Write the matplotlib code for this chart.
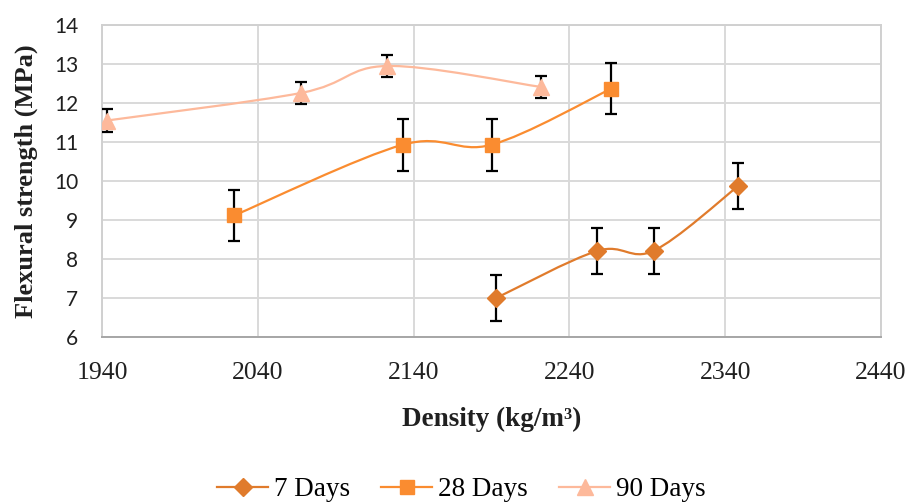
import matplotlib
matplotlib.use("Agg")
import matplotlib.pyplot as plt
from matplotlib.path import Path
from matplotlib.patches import PathPatch
from matplotlib.lines import Line2D

# Flexural strength vs. density for three curing ages
density_7 = [2193, 2258, 2294, 2348]
strength_7 = [7.0, 8.21, 8.21, 9.86]
err_7 = [0.58, 0.59, 0.59, 0.59]

density_28 = [2025, 2133, 2190, 2267]
strength_28 = [9.12, 10.93, 10.93, 12.37]
err_28 = [0.65, 0.67, 0.67, 0.66]

density_90 = [1943, 2068, 2123, 2222]
strength_90 = [11.55, 12.26, 12.95, 12.41]
err_90 = [0.29, 0.28, 0.28, 0.29]

series_labels = ["7 Days", "28 Days", "90 Days"]
x_ticks = [1940, 2040, 2140, 2240, 2340, 2440]
y_ticks = [6, 7, 8, 9, 10, 11, 12, 13, 14]

colors = ["#E07B2C", "#FA8C30", "#FDB99B"]
markers = ["D", "s", "^"]
msizes = [9.5, 10.5, 11.5]

serif = ["Liberation Serif", "DejaVu Serif"]


def smooth_path(xs, ys):
    """Cubic Bezier path through the points (Catmull-Rom tangents)."""
    pts = list(zip(xs, ys))
    n = len(pts)
    verts = [pts[0]]
    codes = [Path.MOVETO]
    for i in range(n - 1):
        p0 = pts[i - 1] if i > 0 else pts[i]
        p1 = pts[i]
        p2 = pts[i + 1]
        p3 = pts[i + 2] if i + 2 < n else pts[i + 1]
        c1 = (p1[0] + (p2[0] - p0[0]) / 6, p1[1] + (p2[1] - p0[1]) / 6)
        c2 = (p2[0] - (p3[0] - p1[0]) / 6, p2[1] - (p3[1] - p1[1]) / 6)
        verts += [c1, c2, p2]
        codes += [Path.CURVE4] * 3
    return Path(verts, codes)


fig = plt.figure(figsize=(9.13, 5.04), dpi=100)
ax = fig.add_axes([0.1117, 0.3313, 0.8533, 0.6191])

data = [
    (density_7, strength_7, err_7),
    (density_28, strength_28, err_28),
    (density_90, strength_90, err_90),
]

handles = []
for (xs, ys, es), c, m, ms, lab in zip(data, colors, markers, msizes, series_labels):
    ax.add_patch(PathPatch(smooth_path(xs, ys), facecolor="none", edgecolor=c,
                           lw=1.6, zorder=3))
    ax.errorbar(xs, ys, yerr=es, fmt="none", ecolor="black", elinewidth=1.6,
                capsize=4, capthick=1.6, zorder=4)
    ax.plot(xs, ys, linestyle="none", marker=m, markersize=ms, color=c,
            markeredgecolor=c, zorder=5)
    handles.append(Line2D([], [], color=c, lw=1.6, marker=m, markersize=ms,
                          markeredgecolor=c, label=lab))

ax.set_xlim(1940, 2440)
ax.set_ylim(6, 14)
ax.set_xticks(x_ticks)
ax.set_yticks(y_ticks)
ax.grid(True, color="#D9D9D9", lw=1.4)
ax.set_axisbelow(True)
ax.tick_params(length=0)
ax.tick_params(axis="y", pad=17)
ax.tick_params(axis="x", pad=18)

for lab in ax.get_yticklabels():
    lab.set_fontfamily(["Lato", "DejaVu Sans"])
    lab.set_fontsize(15)
    lab.set_color("#202020")
for lab in ax.get_xticklabels():
    lab.set_fontfamily(serif)
    lab.set_fontsize(18.5)
    lab.set_color("#202020")

for name, sp in ax.spines.items():
    sp.set_color("#D0D0D0")
    sp.set_linewidth(1.4)
ax.spines["bottom"].set_color("#A6A6A6")

ax.set_xlabel("Density (kg/m³)", family=serif, fontweight="bold",
              fontsize=19.5, color="#202020")
ax.xaxis.set_label_coords(0.5, -0.225)
ax.set_ylabel("Flexural strength (MPa)", family=serif, fontweight="bold",
              fontsize=19, color="#202020", va="center")
ax.yaxis.set_label_coords(-0.097, 0.5)

fig.legend(handles=handles, loc="center", bbox_to_anchor=(0.505, 0.028),
           ncol=3, frameon=False, prop={"family": serif, "size": 19.5},
           handlelength=1.9, handletextpad=0.2, columnspacing=1.15)

fig.savefig("out.png", dpi=100)
